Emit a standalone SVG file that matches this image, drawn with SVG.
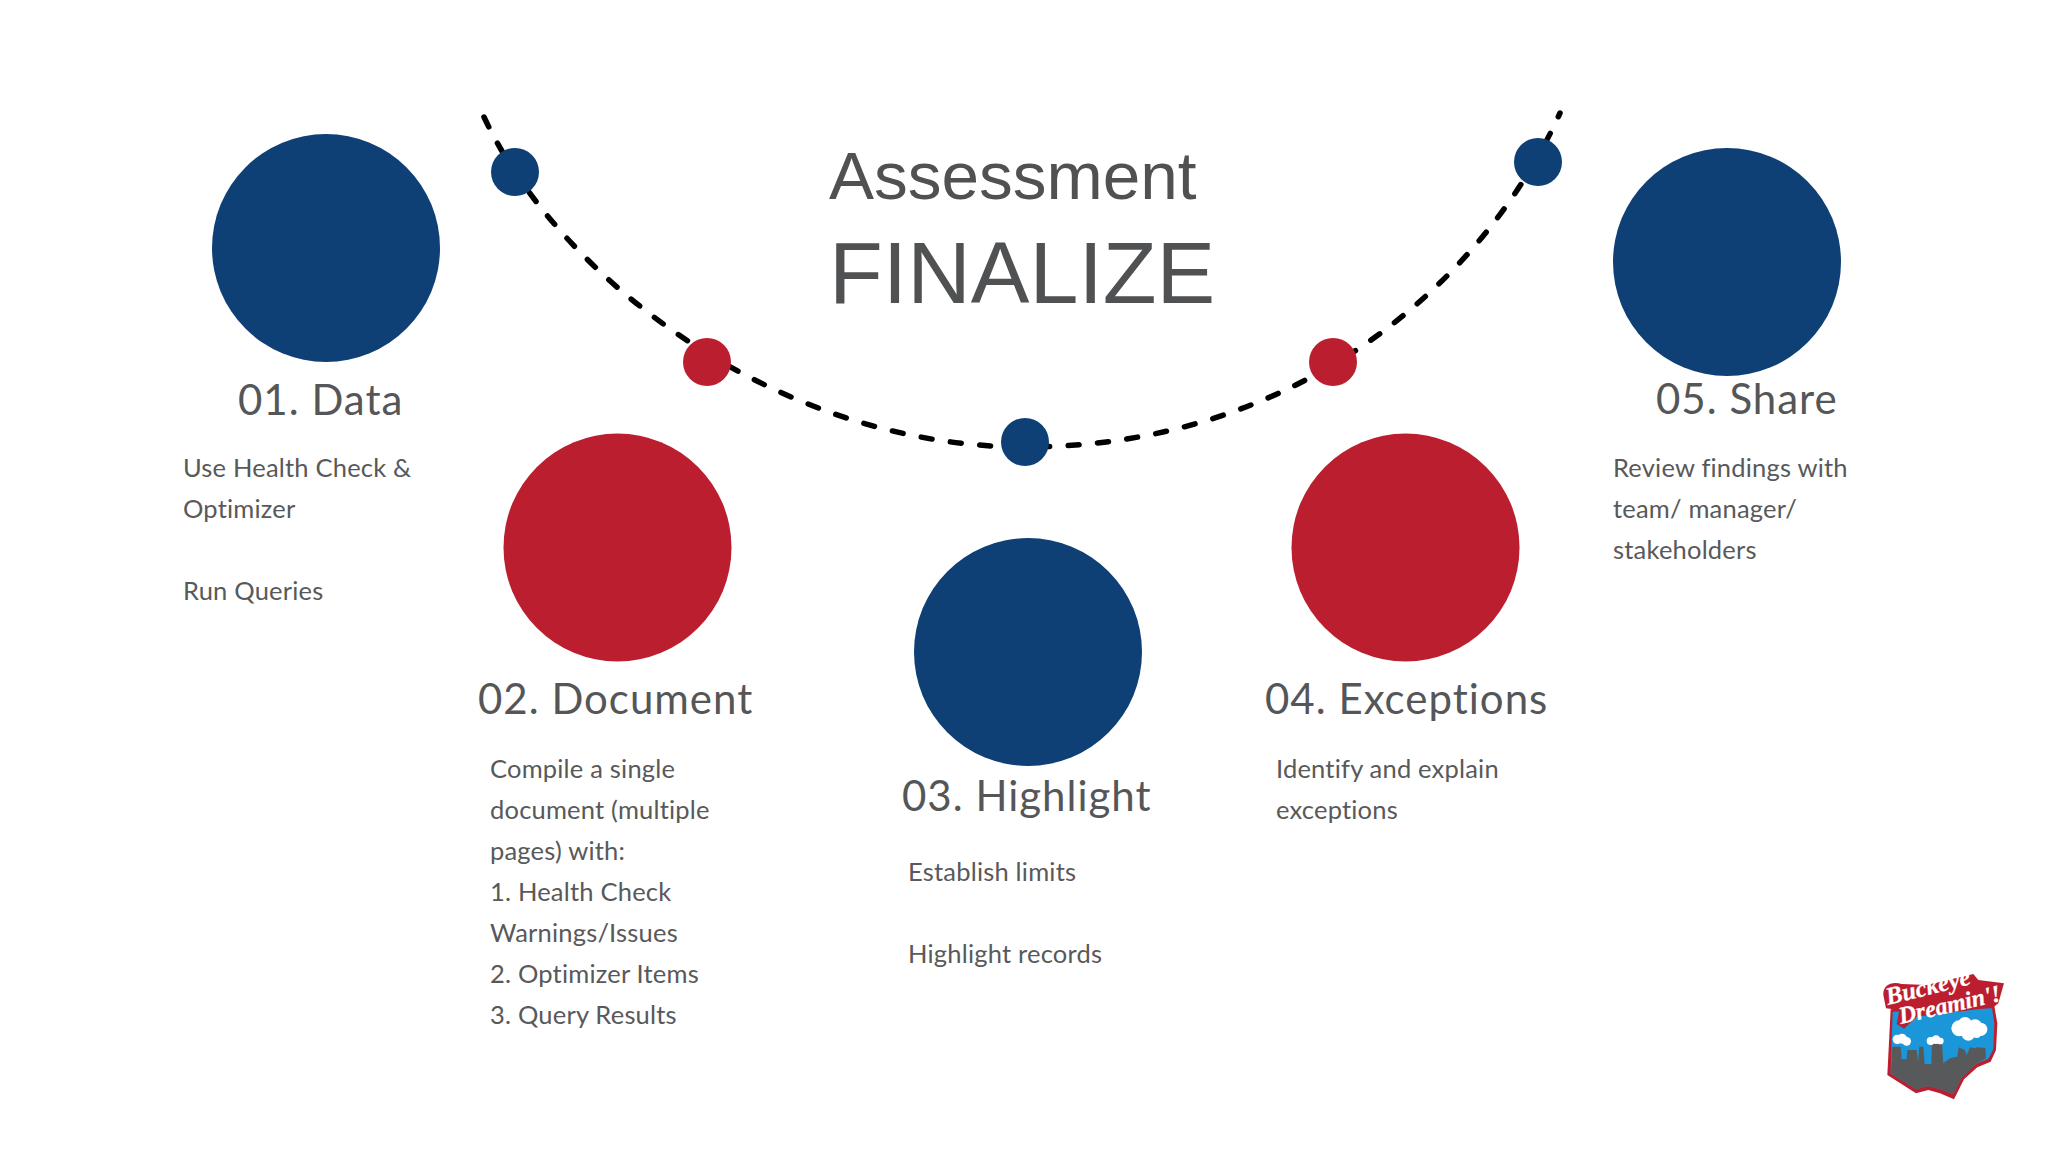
<svg xmlns="http://www.w3.org/2000/svg" width="2048" height="1152" viewBox="0 0 2048 1152">
<style>
.blue{fill:#0e3f75}.red{fill:#bb1f2f}
.title{font-family:"Liberation Sans",Arial,sans-serif;fill:#505152}
.h{font-family:Lato,"Noto Sans",sans-serif;font-size:42px;fill:#555657;letter-spacing:1px}
.b{font-family:Lato,"Noto Sans",sans-serif;font-size:25.500px;fill:#58595a;letter-spacing:.2px}
.logo{font-family:"Liberation Serif",serif;font-weight:bold;font-style:italic;fill:#fff;stroke:#fff;stroke-width:.8px}
</style>
<rect width="2048" height="1152" fill="#fff"/>
<g id="connectors"><path id="arc" d="M484 117C560 280 780 447 1025 447C1290 447 1480 290 1560 113" fill="none" stroke="#000" stroke-width="5.500" stroke-linecap="round" stroke-dasharray="11 18.500"/></g>
<g id="title"><text class="title" x="829" y="199" font-size="67.500">Assessment</text><text class="title" x="829" y="303" font-size="88">FINALIZE</text></g>
<g id="dot-1"><circle class="blue" cx="515" cy="172" r="24"/></g>
<g id="dot-2"><circle class="red" cx="707" cy="362" r="24"/></g>
<g id="dot-3"><circle class="blue" cx="1025" cy="442" r="24"/></g>
<g id="dot-4"><circle class="red" cx="1333" cy="362" r="24"/></g>
<g id="dot-5"><circle class="blue" cx="1538" cy="162" r="24"/></g>
<g id="node-01"><circle class="blue" cx="326" cy="248" r="114"/><text class="h" x="238" y="415">01. Data</text><text class="b" x="183" y="477">Use Health Check &amp;</text><text class="b" x="183" y="518">Optimizer</text><text class="b" x="183" y="600">Run Queries</text></g>
<g id="node-02"><circle class="red" cx="617.500" cy="547.500" r="114"/><text class="h" x="478" y="714">02. Document</text><text class="b" x="490" y="778">Compile a single</text><text class="b" x="490" y="819">document (multiple</text><text class="b" x="490" y="860">pages) with:</text><text class="b" x="490" y="901">1. Health Check</text><text class="b" x="490" y="942">Warnings/Issues</text><text class="b" x="490" y="983">2. Optimizer Items</text><text class="b" x="490" y="1024">3. Query Results</text></g>
<g id="node-03"><circle class="blue" cx="1028" cy="652" r="114"/><text class="h" x="902" y="811">03. Highlight</text><text class="b" x="908" y="881">Establish limits</text><text class="b" x="908" y="963">Highlight records</text></g>
<g id="node-04"><circle class="red" cx="1405.500" cy="547.500" r="114"/><text class="h" x="1265" y="714">04. Exceptions</text><text class="b" x="1276" y="778">Identify and explain</text><text class="b" x="1276" y="819">exceptions</text></g>
<g id="node-05"><circle class="blue" cx="1727" cy="262" r="114"/><text class="h" x="1656" y="414">05. Share</text><text class="b" x="1613" y="477">Review findings with</text><text class="b" x="1613" y="518">team/ manager/</text><text class="b" x="1613" y="559">stakeholders</text></g>
<g id="logo" transform="translate(1860 960) scale(.33333)">
<path d="M82 345 92 148 400 120 412 190 408 270 392 305 352 322 312 358 282 418 240 400 205 390 168 400Z" fill="#bb1f2f"/>
<path d="M98 155 396 145 403 190 400 268 385 296 348 312 306 350 280 403 242 388 205 378 168 388 92 340Z" fill="#1b96d8"/>
<path d="M93 340 97 260 122 260 125 298 140 298 142 270 170 270 174 305 178 260 190 260 194 312 214 312 216 248 246 248 250 310 270 295 292 290 296 262 314 270 320 285 330 262 345 265 352 262 376 264 378 295 348 312 306 350 280 403 242 388 205 378 168 388Z" fill="#58595b"/>
<g fill="#fff"><circle cx="112" cy="238" r="14"/><circle cx="126" cy="236" r="15"/><circle cx="140" cy="244" r="13"/><circle cx="212" cy="243" r="12"/><circle cx="228" cy="239" r="13"/><circle cx="241" cy="243" r="10"/><circle cx="298" cy="205" r="24"/><circle cx="315" cy="192" r="21"/><circle cx="345" cy="200" r="22"/><circle cx="362" cy="208" r="20"/><circle cx="325" cy="222" r="20"/><circle cx="350" cy="220" r="14"/></g>
<path d="M70 105C68 78 92 62 125 72L200 75 340 42 355 60 432 70 415 130 400 142 170 170 132 206 110 192 118 150 78 145Z" fill="#bb1f2f"/>
<text class="logo" transform="translate(84 135) rotate(-14)" font-size="74">Buckeye</text>
<text class="logo" transform="translate(122 192) rotate(-13)" font-size="72">Dreamin'!</text>
</g>
</svg>
